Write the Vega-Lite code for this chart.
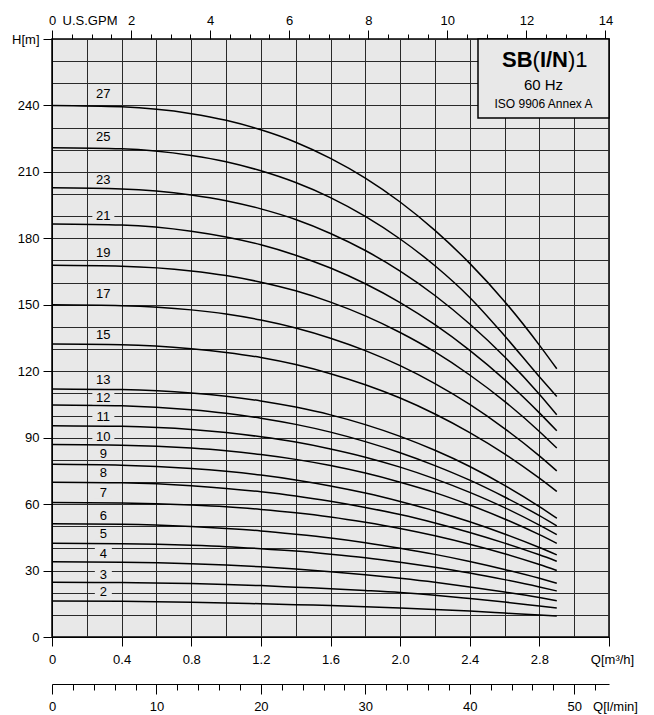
{
"$schema": "https://vega.github.io/schema/vega-lite/v6.json",
"width": 557, "height": 598,
"autosize": {"type": "none"},
"padding": {"left": 52, "top": 39, "right": 45, "bottom": 78},
"background": "white",
"config": {
 "view": {"fill": "#e8e8e8", "stroke": "black", "strokeWidth": 1.5},
 "font": "Liberation Sans",
 "axis": {"labelFont": "Liberation Sans", "labelFontSize": 13, "labelColor": "black", "domainColor": "black", "tickColor": "black", "tickWidth": 1, "domainWidth": 1, "labelFlush": false, "labelOverlap": false, "labelBound": false, "title": null, "grid": false}
},
"datasets": {
"curves": [
{"n":27,"q":0,"h":240},{"n":27,"q":0.4,"h":239.4},{"n":27,"q":0.8,"h":236.3},{"n":27,"q":1.0,"h":233.3},{"n":27,"q":1.2,"h":229.0},{"n":27,"q":1.4,"h":223.4},{"n":27,"q":1.6,"h":216.1},{"n":27,"q":1.8,"h":207.2},{"n":27,"q":2.0,"h":196.4},{"n":27,"q":2.2,"h":183.6},{"n":27,"q":2.4,"h":168.7},{"n":27,"q":2.6,"h":151.5},{"n":27,"q":2.8,"h":131.8},{"n":27,"q":2.9,"h":121.1},
{"n":25,"q":0,"h":220.9},{"n":25,"q":0.4,"h":220.4},{"n":25,"q":0.8,"h":217.4},{"n":25,"q":1.0,"h":214.6},{"n":25,"q":1.2,"h":210.5},{"n":25,"q":1.4,"h":205.2},{"n":25,"q":1.6,"h":198.4},{"n":25,"q":1.8,"h":189.9},{"n":25,"q":2.0,"h":179.7},{"n":25,"q":2.2,"h":167.6},{"n":25,"q":2.4,"h":153.3},{"n":25,"q":2.6,"h":136.0},{"n":25,"q":2.8,"h":117.5},{"n":25,"q":2.9,"h":108.6},
{"n":23,"q":0,"h":202.8},{"n":23,"q":0.4,"h":202.3},{"n":23,"q":0.8,"h":199.6},{"n":23,"q":1.0,"h":197.0},{"n":23,"q":1.2,"h":193.3},{"n":23,"q":1.4,"h":188.5},{"n":23,"q":1.6,"h":182.2},{"n":23,"q":1.8,"h":174.5},{"n":23,"q":2.0,"h":165.2},{"n":23,"q":2.2,"h":154.2},{"n":23,"q":2.4,"h":141.3},{"n":23,"q":2.6,"h":126.5},{"n":23,"q":2.8,"h":109.6},{"n":23,"q":2.9,"h":100.3},
{"n":21,"q":0,"h":186.5},{"n":21,"q":0.4,"h":186.0},{"n":21,"q":0.8,"h":183.2},{"n":21,"q":1.0,"h":180.6},{"n":21,"q":1.2,"h":177.1},{"n":21,"q":1.4,"h":172.4},{"n":21,"q":1.6,"h":166.6},{"n":21,"q":1.8,"h":159.5},{"n":21,"q":2.0,"h":151.0},{"n":21,"q":2.2,"h":141.0},{"n":21,"q":2.4,"h":129.4},{"n":21,"q":2.6,"h":116.2},{"n":21,"q":2.8,"h":101.2},{"n":21,"q":2.9,"h":93.1},
{"n":19,"q":0,"h":167.8},{"n":19,"q":0.4,"h":167.4},{"n":19,"q":0.8,"h":165.3},{"n":19,"q":1.0,"h":163.2},{"n":19,"q":1.2,"h":160.2},{"n":19,"q":1.4,"h":156.3},{"n":19,"q":1.6,"h":151.2},{"n":19,"q":1.8,"h":145.0},{"n":19,"q":2.0,"h":137.5},{"n":19,"q":2.2,"h":128.7},{"n":19,"q":2.4,"h":118.3},{"n":19,"q":2.6,"h":106.4},{"n":19,"q":2.8,"h":92.8},{"n":19,"q":2.9,"h":85.3},
{"n":17,"q":0,"h":150},{"n":17,"q":0.4,"h":149.6},{"n":17,"q":0.8,"h":147.7},{"n":17,"q":1.0,"h":145.8},{"n":17,"q":1.2,"h":143.1},{"n":17,"q":1.4,"h":139.5},{"n":17,"q":1.6,"h":134.9},{"n":17,"q":1.8,"h":129.3},{"n":17,"q":2.0,"h":122.5},{"n":17,"q":2.2,"h":114.4},{"n":17,"q":2.4,"h":105.0},{"n":17,"q":2.6,"h":94.1},{"n":17,"q":2.8,"h":81.8},{"n":17,"q":2.9,"h":75},
{"n":15,"q":0,"h":132.3},{"n":15,"q":0.4,"h":132.0},{"n":15,"q":0.8,"h":130.2},{"n":15,"q":1.0,"h":128.5},{"n":15,"q":1.2,"h":126.2},{"n":15,"q":1.4,"h":123.0},{"n":15,"q":1.6,"h":118.9},{"n":15,"q":1.8,"h":113.9},{"n":15,"q":2.0,"h":107.9},{"n":15,"q":2.2,"h":100.7},{"n":15,"q":2.4,"h":92.3},{"n":15,"q":2.6,"h":82.7},{"n":15,"q":2.8,"h":71.7},{"n":15,"q":2.9,"h":65.7},
{"n":13,"q":0,"h":112},{"n":13,"q":0.4,"h":111.7},{"n":13,"q":0.8,"h":110.2},{"n":13,"q":1.0,"h":108.7},{"n":13,"q":1.2,"h":106.6},{"n":13,"q":1.4,"h":103.8},{"n":13,"q":1.6,"h":100.3},{"n":13,"q":1.8,"h":95.9},{"n":13,"q":2.0,"h":90.6},{"n":13,"q":2.2,"h":84.3},{"n":13,"q":2.4,"h":77.0},{"n":13,"q":2.6,"h":68.5},{"n":13,"q":2.8,"h":58.9},{"n":13,"q":2.9,"h":53.6},
{"n":12,"q":0,"h":104.8},{"n":12,"q":0.4,"h":104.4},{"n":12,"q":0.8,"h":102.6},{"n":12,"q":1.0,"h":101.0},{"n":12,"q":1.2,"h":98.8},{"n":12,"q":1.4,"h":96.0},{"n":12,"q":1.6,"h":92.5},{"n":12,"q":1.8,"h":88.2},{"n":12,"q":2.0,"h":83.2},{"n":12,"q":2.2,"h":77.4},{"n":12,"q":2.4,"h":70.8},{"n":12,"q":2.6,"h":63.2},{"n":12,"q":2.8,"h":54.8},{"n":12,"q":2.9,"h":50.2},
{"n":11,"q":0,"h":95.4},{"n":11,"q":0.4,"h":95.1},{"n":11,"q":0.8,"h":93.7},{"n":11,"q":1.0,"h":92.3},{"n":11,"q":1.2,"h":90.4},{"n":11,"q":1.4,"h":88.0},{"n":11,"q":1.6,"h":84.9},{"n":11,"q":1.8,"h":81.2},{"n":11,"q":2.0,"h":76.7},{"n":11,"q":2.2,"h":71.4},{"n":11,"q":2.4,"h":65.3},{"n":11,"q":2.6,"h":58.4},{"n":11,"q":2.8,"h":50.5},{"n":11,"q":2.9,"h":46.2},
{"n":10,"q":0,"h":86.9},{"n":10,"q":0.4,"h":86.6},{"n":10,"q":0.8,"h":85.3},{"n":10,"q":1.0,"h":84.1},{"n":10,"q":1.2,"h":82.4},{"n":10,"q":1.4,"h":80.2},{"n":10,"q":1.6,"h":77.4},{"n":10,"q":1.8,"h":74.0},{"n":10,"q":2.0,"h":69.9},{"n":10,"q":2.2,"h":65.2},{"n":10,"q":2.4,"h":59.6},{"n":10,"q":2.6,"h":53.3},{"n":10,"q":2.8,"h":46.2},{"n":10,"q":2.9,"h":42.3},
{"n":9,"q":0,"h":78},{"n":9,"q":0.4,"h":77.6},{"n":9,"q":0.8,"h":76.1},{"n":9,"q":1.0,"h":74.8},{"n":9,"q":1.2,"h":73.1},{"n":9,"q":1.4,"h":70.9},{"n":9,"q":1.6,"h":68.2},{"n":9,"q":1.8,"h":65.0},{"n":9,"q":2.0,"h":61.2},{"n":9,"q":2.2,"h":56.9},{"n":9,"q":2.4,"h":52.0},{"n":9,"q":2.6,"h":46.5},{"n":9,"q":2.8,"h":40.4},{"n":9,"q":2.9,"h":37.1},
{"n":8,"q":0,"h":69.9},{"n":8,"q":0.4,"h":69.6},{"n":8,"q":0.8,"h":68.3},{"n":8,"q":1.0,"h":67.1},{"n":8,"q":1.2,"h":65.6},{"n":8,"q":1.4,"h":63.7},{"n":8,"q":1.6,"h":61.3},{"n":8,"q":1.8,"h":58.5},{"n":8,"q":2.0,"h":55.3},{"n":8,"q":2.2,"h":51.5},{"n":8,"q":2.4,"h":47.2},{"n":8,"q":2.6,"h":42.4},{"n":8,"q":2.8,"h":37.1},{"n":8,"q":2.9,"h":34.2},
{"n":7,"q":0,"h":60.7},{"n":7,"q":0.4,"h":60.5},{"n":7,"q":0.8,"h":59.6},{"n":7,"q":1.0,"h":58.8},{"n":7,"q":1.2,"h":57.6},{"n":7,"q":1.4,"h":56.1},{"n":7,"q":1.6,"h":54.2},{"n":7,"q":1.8,"h":51.8},{"n":7,"q":2.0,"h":49.0},{"n":7,"q":2.2,"h":45.7},{"n":7,"q":2.4,"h":41.9},{"n":7,"q":2.6,"h":37.6},{"n":7,"q":2.8,"h":32.7},{"n":7,"q":2.9,"h":30},
{"n":6,"q":0,"h":51.1},{"n":6,"q":0.4,"h":50.9},{"n":6,"q":0.8,"h":49.9},{"n":6,"q":1.0,"h":49.0},{"n":6,"q":1.2,"h":47.9},{"n":6,"q":1.4,"h":46.4},{"n":6,"q":1.6,"h":44.7},{"n":6,"q":1.8,"h":42.6},{"n":6,"q":2.0,"h":40.1},{"n":6,"q":2.2,"h":37.3},{"n":6,"q":2.4,"h":34.1},{"n":6,"q":2.6,"h":30.5},{"n":6,"q":2.8,"h":26.5},{"n":6,"q":2.9,"h":24.3},
{"n":5,"q":0,"h":42.3},{"n":5,"q":0.4,"h":42.1},{"n":5,"q":0.8,"h":41.4},{"n":5,"q":1.0,"h":40.8},{"n":5,"q":1.2,"h":39.9},{"n":5,"q":1.4,"h":38.8},{"n":5,"q":1.6,"h":37.4},{"n":5,"q":1.8,"h":35.8},{"n":5,"q":2.0,"h":33.8},{"n":5,"q":2.2,"h":31.5},{"n":5,"q":2.4,"h":28.9},{"n":5,"q":2.6,"h":25.9},{"n":5,"q":2.8,"h":22.6},{"n":5,"q":2.9,"h":20.8},
{"n":4,"q":0,"h":34},{"n":4,"q":0.4,"h":33.8},{"n":4,"q":0.8,"h":33.1},{"n":4,"q":1.0,"h":32.5},{"n":4,"q":1.2,"h":31.7},{"n":4,"q":1.4,"h":30.7},{"n":4,"q":1.6,"h":29.5},{"n":4,"q":1.8,"h":28.1},{"n":4,"q":2.0,"h":26.5},{"n":4,"q":2.2,"h":24.7},{"n":4,"q":2.4,"h":22.6},{"n":4,"q":2.6,"h":20.3},{"n":4,"q":2.8,"h":17.8},{"n":4,"q":2.9,"h":16.4},
{"n":3,"q":0,"h":24.7},{"n":3,"q":0.4,"h":24.6},{"n":3,"q":0.8,"h":24.1},{"n":3,"q":1.0,"h":23.7},{"n":3,"q":1.2,"h":23.2},{"n":3,"q":1.4,"h":22.5},{"n":3,"q":1.6,"h":21.8},{"n":3,"q":1.8,"h":21.0},{"n":3,"q":2.0,"h":20.1},{"n":3,"q":2.2,"h":18.9},{"n":3,"q":2.4,"h":17.4},{"n":3,"q":2.6,"h":15.8},{"n":3,"q":2.8,"h":14.0},{"n":3,"q":2.9,"h":13.1},
{"n":2,"q":0,"h":16.3},{"n":2,"q":0.4,"h":16.1},{"n":2,"q":0.8,"h":15.7},{"n":2,"q":1.0,"h":15.4},{"n":2,"q":1.2,"h":15.0},{"n":2,"q":1.4,"h":14.6},{"n":2,"q":1.6,"h":14.2},{"n":2,"q":1.8,"h":13.7},{"n":2,"q":2.0,"h":13.1},{"n":2,"q":2.2,"h":12.4},{"n":2,"q":2.4,"h":11.7},{"n":2,"q":2.6,"h":10.8},{"n":2,"q":2.8,"h":9.9},{"n":2,"q":2.9,"h":9.5}
],
"labels": [
{"n":"27","q":0.295,"h":245.2},{"n":"25","q":0.295,"h":225.9},{"n":"23","q":0.295,"h":206.3},{"n":"21","q":0.295,"h":190.2},{"n":"19","q":0.295,"h":173.2},{"n":"17","q":0.295,"h":154.7},{"n":"15","q":0.295,"h":136.4},{"n":"13","q":0.295,"h":116.0},{"n":"12","q":0.295,"h":107.8},{"n":"11","q":0.295,"h":99.5},{"n":"10","q":0.295,"h":90.2},{"n":"9","q":0.295,"h":82.6},{"n":"8","q":0.295,"h":74.2},{"n":"7","q":0.295,"h":65.2},{"n":"6","q":0.295,"h":54.8},{"n":"5","q":0.295,"h":46.5},{"n":"4","q":0.295,"h":37.5},{"n":"3","q":0.295,"h":28.0},{"n":"2","q":0.295,"h":20.2}
],
"box": [{"model": "SB(I/N)1"}]
},
"layer": [
{
 "data": {"name": "curves"},
 "mark": {"type": "point", "opacity": 0},
 "encoding": {
  "x": {"field": "q", "type": "quantitative", "scale": {"domain": [0, 3.2], "nice": false, "zero": false},
   "axis": {"orient": "bottom", "grid": true, "gridColor": "#2a2a2a", "gridWidth": 1, "ticks": false, "labels": false, "domain": false,
    "values": [0,0.2,0.4,0.6,0.8,1,1.2,1.4,1.6,1.8,2,2.2,2.4,2.6,2.8,3,3.2]}},
  "y": {"field": "h", "type": "quantitative", "scale": {"domain": [0, 270], "nice": false, "zero": false},
   "axis": {"orient": "left", "grid": true, "gridColor": "#2a2a2a", "gridWidth": 1, "ticks": false, "labels": false, "domain": false,
    "values": [0,10,20,30,40,50,60,70,80,90,100,110,120,130,140,150,160,170,180,190,200,210,220,230,240,250,260,270]}}
 }
},
{
 "data": {"name": "curves"},
 "mark": {"type": "line", "color": "black", "strokeWidth": 1.5, "interpolate": "monotone"},
 "encoding": {
  "x": {"field": "q", "type": "quantitative",
   "axis": {"orient": "bottom", "values": [0,0.4,0.8,1.2,1.6,2,2.4,2.8,3.2], "tickSize": 9, "labelPadding": 7,
    "labelExpr": "datum.value > 3.1 ? 'Q[m³/h]' : (datum.value == 0 ? '0' : format(datum.value, '.1f'))",
    "labelOffset": {"condition": {"test": "datum.value > 3.1", "value": 3}, "value": 0}}},
  "y": {"field": "h", "type": "quantitative",
   "axis": {"orient": "left", "values": [0,30,60,90,120,150,180,210,240,270], "tickSize": 9, "labelPadding": 4,
    "labelExpr": "datum.value == 270 ? 'H[m]' : datum.label"}},
  "detail": {"field": "n", "type": "nominal"}
 }
},
{
 "data": {"name": "curves"},
 "mark": {"type": "point", "opacity": 0},
 "encoding": {
  "x": {"field": "q", "type": "quantitative",
   "axis": {"orient": "top", "domain": false, "tickSize": 9, "labelPadding": 3,
    "values": [0,0.45425,0.9085,1.36275,1.817,2.27125,2.7255,3.17975],
    "labelExpr": "'' + round(datum.value * 4.40287)"}},
  "y": {"field": "h", "type": "quantitative", "axis": null}
 }
},
{
 "data": {"name": "curves"},
 "mark": {"type": "point", "opacity": 0},
 "encoding": {
  "x": {"field": "q", "type": "quantitative",
   "axis": {"orient": "top", "domain": false, "tickSize": 5, "labelPadding": 7, "labelOffset": -2,
    "values": [0.11356,0.22712,0.34069,0.56781,0.68137,0.79494,1.02206,1.13562,1.24919,1.47631,1.58987,1.70344,1.93056,2.04412,2.15769,2.38481,2.49837,2.61194,2.83906,2.95262,3.06619],
    "labelExpr": "abs(datum.value - 0.22712) < 0.001 ? 'U.S.GPM' : ''"}},
  "y": {"field": "h", "type": "quantitative", "axis": null}
 }
},
{
 "data": {"name": "curves"},
 "mark": {"type": "point", "opacity": 0},
 "encoding": {
  "x": {"field": "q", "type": "quantitative",
   "axis": {"orient": "bottom", "offset": 47, "domain": true, "tickSize": 10, "labelPadding": 6,
    "values": [0,0.6,1.2,1.8,2.4,3.0,3.2],
    "tickOpacity": {"condition": {"test": "datum.value > 3.1", "value": 0}, "value": 1},
    "labelOffset": {"condition": {"test": "datum.value > 3.1", "value": 6}, "value": 0},
    "labelExpr": "datum.value > 3.1 ? 'Q[l/min]' : '' + round(datum.value / 0.06)"}},
  "y": {"field": "h", "type": "quantitative", "axis": null}
 }
},
{
 "data": {"name": "curves"},
 "mark": {"type": "point", "opacity": 0},
 "encoding": {
  "x": {"field": "q", "type": "quantitative",
   "axis": {"orient": "bottom", "offset": 47, "domain": false, "tickSize": 6, "labels": false,
    "values": [0.12,0.24,0.36,0.48,0.72,0.84,0.96,1.08,1.32,1.44,1.56,1.68,1.92,2.04,2.16,2.28,2.52,2.64,2.76,2.88,3.12]}},
  "y": {"field": "h", "type": "quantitative", "axis": null}
 }
},
{
 "data": {"name": "labels"},
 "mark": {"type": "point", "filled": true, "color": "#e8e8e8", "opacity": 1, "strokeWidth": 0},
 "encoding": {
  "x": {"field": "q", "type": "quantitative", "axis": null},
  "y": {"field": "h", "type": "quantitative", "axis": null},
  "shape": {"condition": {"test": "length(datum.n) == 1", "value": "M-1,-0.7H1V0.7H-1Z"}, "value": "M-1,-0.55H1V0.55H-1Z"},
  "size": {"condition": {"test": "length(datum.n) == 1", "value": 289}, "value": 484}
 }
},
{
 "data": {"name": "labels"},
 "mark": {"type": "text", "fontSize": 13, "font": "Liberation Sans", "color": "black", "align": "center", "baseline": "middle"},
 "encoding": {
  "x": {"field": "q", "type": "quantitative", "axis": null},
  "y": {"field": "h", "type": "quantitative", "axis": null},
  "text": {"field": "n", "type": "nominal"}
 }
},
{
 "data": {"name": "box"},
 "mark": {"type": "rect", "fill": "#e8e8e8", "stroke": "black", "strokeWidth": 1.5},
 "encoding": {
  "x": {"datum": 2.4474, "type": "quantitative", "axis": null},
  "x2": {"datum": 3.2},
  "y": {"datum": 270, "type": "quantitative", "axis": null},
  "y2": {"datum": 234.3}
 }
},
{
 "data": {"name": "box"},
 "mark": {"type": "text", "text": "SB", "font": "Liberation Sans", "fontSize": 22, "fontWeight": "bold", "align": "left", "baseline": "alphabetic", "dx": -41.5},
 "encoding": {"x": {"datum": 2.8237, "type": "quantitative", "axis": null}, "y": {"datum": 257.5, "type": "quantitative", "axis": null}}
},
{
 "data": {"name": "box"},
 "mark": {"type": "text", "text": "(", "font": "Liberation Sans", "fontSize": 22, "fontWeight": "normal", "align": "left", "baseline": "alphabetic", "dx": -11},
 "encoding": {"x": {"datum": 2.8237, "type": "quantitative", "axis": null}, "y": {"datum": 257.5, "type": "quantitative", "axis": null}}
},
{
 "data": {"name": "box"},
 "mark": {"type": "text", "text": "I/N", "font": "Liberation Sans", "fontSize": 22, "fontWeight": "bold", "align": "left", "baseline": "alphabetic", "dx": -3.6},
 "encoding": {"x": {"datum": 2.8237, "type": "quantitative", "axis": null}, "y": {"datum": 257.5, "type": "quantitative", "axis": null}}
},
{
 "data": {"name": "box"},
 "mark": {"type": "text", "text": ")1", "font": "Liberation Sans", "fontSize": 22, "fontWeight": "normal", "align": "left", "baseline": "alphabetic", "dx": 24.5},
 "encoding": {"x": {"datum": 2.8237, "type": "quantitative", "axis": null}, "y": {"datum": 257.5, "type": "quantitative", "axis": null}}
},
{
 "data": {"name": "box"},
 "mark": {"type": "text", "text": "60 Hz", "font": "Liberation Sans", "fontSize": 15, "align": "center", "baseline": "alphabetic"},
 "encoding": {"x": {"datum": 2.8237, "type": "quantitative", "axis": null}, "y": {"datum": 247, "type": "quantitative", "axis": null}}
},
{
 "data": {"name": "box"},
 "mark": {"type": "text", "text": "ISO 9906 Annex A", "font": "Liberation Sans", "fontSize": 12, "align": "center", "baseline": "alphabetic"},
 "encoding": {"x": {"datum": 2.8237, "type": "quantitative", "axis": null}, "y": {"datum": 238.7, "type": "quantitative", "axis": null}}
}
],
"resolve": {"axis": {"x": "independent", "y": "independent"}}
}
